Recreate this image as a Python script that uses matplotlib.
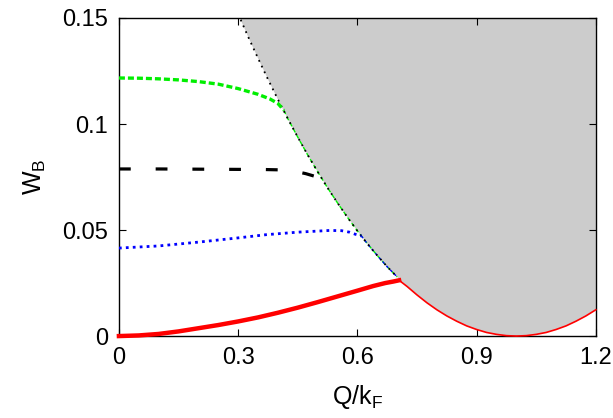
import numpy as np
import matplotlib
matplotlib.use('Agg')
import matplotlib.pyplot as plt

plt.rcParams['font.family'] = ['Liberation Sans', 'DejaVu Sans']
plt.rcParams['mathtext.fontset'] = 'custom'
plt.rcParams['mathtext.rm'] = 'Liberation Sans'

# lower edge of the continuum (grey region)
q_edge = np.array([0.300, 0.325, 0.350, 0.375, 0.400, 0.425, 0.450, 0.475, 0.500,
                   0.525, 0.550, 0.575, 0.600, 0.625, 0.650, 0.675, 0.700, 0.725,
                   0.750, 0.775, 0.800, 0.825, 0.850, 0.875, 0.900, 0.925, 0.950,
                   0.975, 1.000, 1.025, 1.050, 1.075, 1.100, 1.125, 1.150, 1.175, 1.200])
w_edge = np.array([0.1519, 0.1412, 0.1310, 0.1211, 0.1116, 0.1025, 0.0938, 0.0854, 0.0775,
                   0.0699, 0.0628, 0.0560, 0.0496, 0.0436, 0.0380, 0.0327, 0.0279, 0.0234,
                   0.0194, 0.0157, 0.0124, 0.0095, 0.0070, 0.0048, 0.0031, 0.0017, 0.0008,
                   0.0002, 0.0000, 0.0002, 0.0008, 0.0017, 0.0031, 0.0048, 0.0070, 0.0095, 0.0124])

# bound state branches
q_green = [0.0, 0.05, 0.10, 0.15, 0.20, 0.25, 0.30, 0.35, 0.38, 0.40, 0.415]
w_green = [0.1217, 0.1216, 0.1213, 0.1208, 0.1200, 0.1188, 0.1167, 0.1140, 0.1118, 0.1097, 0.1065]

q_black = [0.0, 0.10, 0.20, 0.30, 0.35, 0.40, 0.44, 0.47, 0.49, 0.51]
w_black = [0.0788, 0.0788, 0.0787, 0.0786, 0.0786, 0.0784, 0.0778, 0.0766, 0.0755, 0.0744]

q_blue = [0.0, 0.10, 0.20, 0.30, 0.37, 0.45, 0.53, 0.56, 0.58, 0.595, 0.61]
w_blue = [0.0415, 0.0425, 0.0443, 0.0463, 0.0478, 0.0490, 0.0498, 0.0497, 0.0490, 0.0480, 0.0472]

q_red = [0.0, 0.05, 0.10, 0.15, 0.20, 0.25, 0.30, 0.35, 0.40, 0.45, 0.50,
         0.55, 0.60, 0.64, 0.67, 0.69, 0.705]
w_red = [0.0, 0.0003, 0.0010, 0.0022, 0.0037, 0.0052, 0.0069, 0.0088, 0.0110, 0.0134, 0.0160,
         0.0187, 0.0214, 0.0236, 0.0250, 0.0257, 0.0263]

fig, ax = plt.subplots(figsize=(6.13, 4.18), dpi=100)
fig.subplots_adjust(left=0.194, right=0.972, bottom=0.196, top=0.957)

ax.fill_between(q_edge, w_edge, 0.2, color='#cccccc', lw=0, zorder=0)

# branches along the continuum edge
m = q_edge <= 0.70
ax.plot(q_edge[m], w_edge[m], color='black', lw=1.3, dashes=(1, 2.5), zorder=3)
m = (q_edge >= 0.425) & (q_edge <= 0.70)
ax.plot([q_green[-1]] + list(q_edge[m]), [w_green[-1]] + list(w_edge[m]),
        color='#00ee00', lw=1.0, dashes=(3, 2), zorder=2)
m = (q_edge >= 0.625) & (q_edge <= 0.70)
ax.plot([q_blue[-1]] + list(q_edge[m]), [w_blue[-1]] + list(w_edge[m]),
        color='blue', lw=1.0, dashes=(2, 2), zorder=2)
m = q_edge >= 0.725
ax.plot([q_red[-1]] + list(q_edge[m]), [w_red[-1]] + list(w_edge[m]),
        color='red', lw=1.2, zorder=4, clip_on=False)

ax.plot(q_green, w_green, color='#00ee00', lw=2.4, dashes=(1.8, 0.9), zorder=3)
ax.plot(q_black, w_black, color='black', lw=2.3, dashes=(3.7, 7.8), zorder=3)
ax.plot(q_blue, w_blue, color='blue', lw=2.0, dashes=(1, 1.5), zorder=3)
ax.plot(q_red, w_red, color='red', lw=3.2, zorder=4, clip_on=False,
        solid_joinstyle='round')

ax.set_xlim(0, 1.2)
ax.set_ylim(0, 0.15)
ax.set_xticks([0, 0.3, 0.6, 0.9, 1.2])
ax.set_xticklabels(['0', '0.3', '0.6', '0.9', '1.2'])
ax.set_yticks([0, 0.05, 0.1, 0.15])
ax.set_yticklabels(['0', '0.05', '0.1', '0.15'])
ax.tick_params(direction='in', top=True, right=True, length=5, width=0.8,
               labelsize=17, pad=8)
for s in ax.spines.values():
    s.set_linewidth(1.0)

ax.set_xlabel('Q/k$_\\mathregular{F}$', fontsize=18, labelpad=10)
ax.set_ylabel('W$_\\mathregular{B}$', fontsize=18, labelpad=10)

fig.savefig('out.png', dpi=100)
